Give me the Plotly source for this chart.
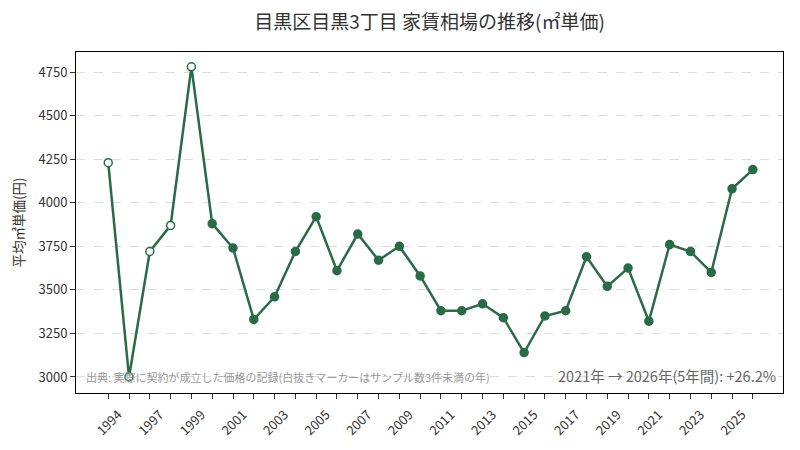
import plotly.graph_objects as go

# 年ごとの平均㎡単価
years = ["1994", "1995", "1997", "1998", "1999", "2000", "2001", "2002", "2003", "2004",
         "2005", "2006", "2007", "2008", "2009", "2010", "2011", "2012", "2013", "2014",
         "2015", "2016", "2017", "2018", "2019", "2020", "2021", "2022", "2023", "2024",
         "2025", "2026"]
prices = [4230, 3000, 3720, 3870, 4780, 3880, 3740, 3330, 3460, 3720,
          3920, 3610, 3820, 3670, 3750, 3580, 3380, 3380, 3420, 3340,
          3140, 3350, 3380, 3690, 3520, 3625, 3320, 3760, 3720, 3600,
          4080, 4190]
# サンプル数3件未満の年(白抜き)
few_samples = ["1994", "1995", "1997", "1998", "1999"]

tick_text = [y if i % 2 == 0 else "" for i, y in enumerate(years)]
y_ticks = [3000, 3250, 3500, 3750, 4000, 4250, 4500, 4750]

GREEN = "#2a6b47"
FONT = "Noto Sans CJK JP"

fill = ["white" if y in few_samples else GREEN for y in years]

fig = go.Figure()
fig.add_trace(go.Scatter(
    x=years, y=prices, mode="lines+markers",
    line=dict(color=GREEN, width=2.5),
    marker=dict(size=8, color=fill, line=dict(color=GREEN, width=1.5)),
    showlegend=False,
))

# ページ本体の余白(8px)の分だけ左上をずらす
fig.update_layout(
    width=800, height=450,
    margin=dict(l=68, r=25, t=44, b=65),
    paper_bgcolor="white", plot_bgcolor="white",
    font=dict(family=FONT, size=13, color="#333333"),
    title=dict(text="目黒区目黒3丁目 家賃相場の推移(㎡単価)", x=421.5 / 800, xanchor="center",
               y=1 - 14 / 450, yanchor="middle", font=dict(size=19, color="#333333")),
)

fig.update_xaxes(
    type="category", range=[-1.55, 32.45], automargin=False,
    tickvals=years, ticktext=tick_text, tickangle=-45,
    ticklabelshift=10, ticklabelstandoff=3,
    ticks="outside", ticklen=5, tickcolor="#333333",
    showline=True, linecolor="black", linewidth=1, mirror=True,
    showgrid=False, tickfont=dict(size=13),
)
fig.update_yaxes(
    range=[2908, 4865], tickvals=y_ticks, automargin=False,
    ticks="outside", ticklen=5, tickcolor="#333333",
    showline=True, linecolor="black", linewidth=1, mirror=True,
    showgrid=True, gridcolor="#dddddd", griddash="dash", gridwidth=1,
    zeroline=False, tickfont=dict(size=13),
    title=dict(text="平均㎡単価(円)", font=dict(size=13.5), standoff=10),
)

fig.add_annotation(
    text="出典: 実際に契約が成立した価格の記録(白抜きマーカーはサンプル数3件未満の年)",
    xref="paper", yref="paper", x=0.011, y=0.047, xanchor="left", yanchor="middle",
    showarrow=False, font=dict(size=11, color="#999999"),
)
fig.add_annotation(
    text="2021年 → 2026年(5年間): +26.2%",
    xref="paper", yref="paper", x=0.993, y=0.05, xanchor="right", yanchor="middle",
    showarrow=False, font=dict(size=14.5, color="#666666"),
)

fig.write_html("out.html")
